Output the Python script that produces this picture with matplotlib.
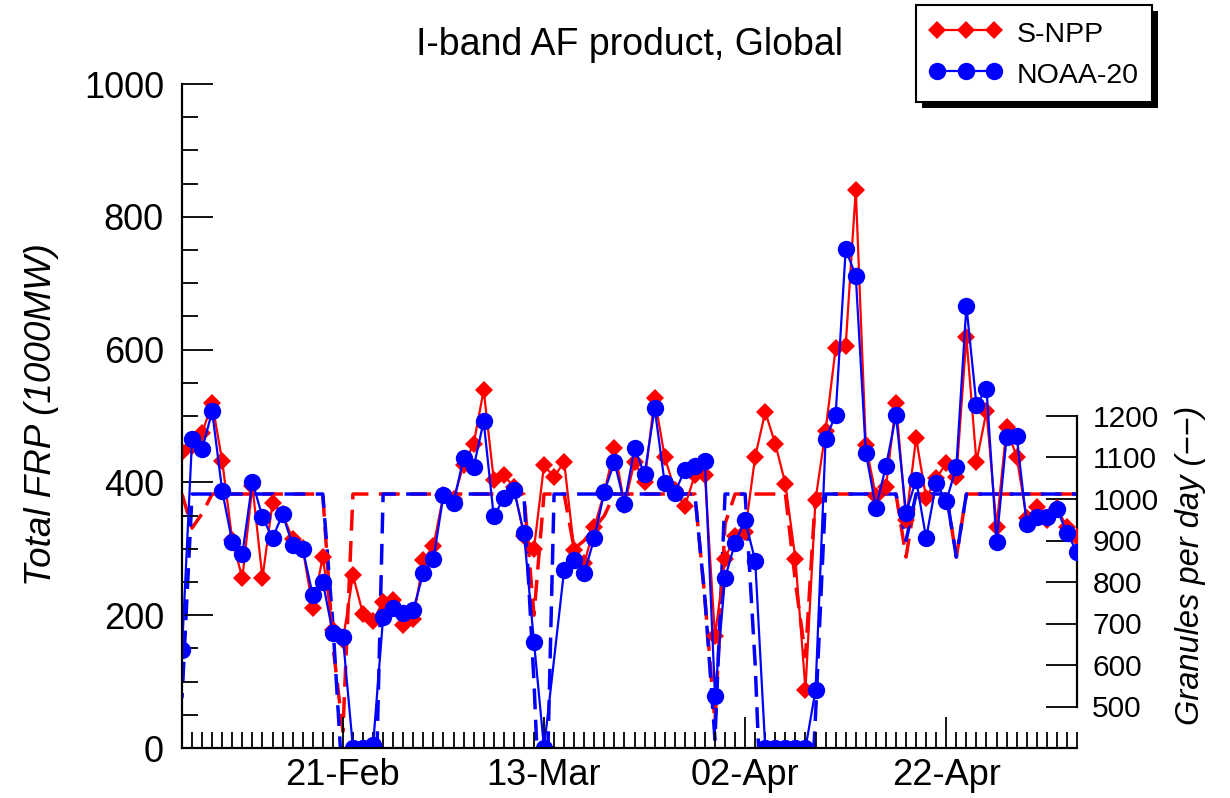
import datetime as dt
import numpy as np
import matplotlib
matplotlib.use("Agg")
import matplotlib.pyplot as plt
import matplotlib.dates as mdates
from matplotlib.patches import Rectangle
from matplotlib.ticker import MultipleLocator

# ---------------- data ----------------
start_date = dt.date(2021, 2, 5)
n_days = 90
dates = [start_date + dt.timedelta(days=i) for i in range(n_days)]

snpp_frp = [446, 455, 474, 520, 432, 313, 256, 395, 256, 369,
            352, 315, 301, 211, 288, 177, 162, 260, 202, 192,
            220, 223, 185, 194, 283, 304, 381, 375, 426, 458,
            539, 404, 411, 393, 320, 300, 426, 408, 431, 298,
            278, 333, 385, 452, 366, 431, 401, 527, 438, 389,
            364, 411, 411, 168, 285, 320, 326, 439, 506, 458,
            398, 285, 88, 374, 478, 602, 606, 841, 456, 380,
            393, 520, 343, 467, 376, 406, 429, 408, 619, 431,
            507, 333, 483, 438, 346, 363, 343, 361, 333, 318]

noaa20_frp = [148, 465, 450, 507, 387, 310, 292, 401, 348, 316,
              352, 306, 300, 230, 250, 173, 167, 0, 0, 4,
              197, 211, 203, 208, 264, 284, 381, 369, 437, 423,
              492, 349, 376, 389, 324, 160, 0, np.nan, 268, 283,
              263, 316, 386, 431, 368, 452, 412, 512, 399, 384,
              419, 424, 432, 79, 256, 309, 343, 282, 0, 0,
              0, 0, 0, 87, 465, 502, 751, 711, 445, 362,
              424, 501, 354, 404, 316, 399, 372, 423, 666, 517,
              541, 310, 468, 470, 337, 348, 348, 360, 324, 295]

snpp_granules = [1012, 930, 965, 1012, 1012, 1012, 1012, 1012, 1012, 1012,
                 1012, 1012, 1012, 1012, 1012, 650, 440, 1012, 1012, 1012,
                 1012, 1012, 1012, 1012, 1012, 1012, 1012, 1012, 1012, 1012,
                 1012, 1012, 1012, 1012, 1012, 720, 1012, 1012, 1012, 880,
                 900, 930, 960, 1012, 1012, 1012, 1012, 1012, 1012, 1012,
                 1012, 1012, 760, 460, 940, 1012, 1012, 1012, 1012, 1012,
                 1012, 800, 620, 1012, 1012, 1012, 1012, 1012, 1012, 1012,
                 1012, 1012, 860, 1012, 1012, 1012, 1012, 860, 1012, 1012,
                 1012, 1012, 1012, 1012, 1012, 1012, 1012, 1012, 1012, 1012]

noaa20_granules = [520, 1012, 1012, 1012, 1012, 1012, 1012, 1012, 1012, 1012,
                   1012, 1012, 1012, 1012, 1012, 700, 300, 0, 0, 0,
                   1012, 1012, 1012, 1012, 1012, 1012, 1012, 1012, 1012, 1012,
                   1012, 1012, 1012, 1012, 1012, 560, 0, 1012, 1012, 1012,
                   1012, 1012, 1012, 1012, 1012, 1012, 1012, 1012, 1012, 1012,
                   1012, 1012, 760, 420, 1012, 1012, 1012, 600, 0, 0,
                   0, 0, 0, 480, 1012, 1012, 1012, 1012, 1012, 1012,
                   1012, 1012, 900, 1012, 1012, 1012, 1012, 860, 1012, 1012,
                   1012, 1012, 1012, 1012, 1012, 1012, 1012, 1012, 1012, 1012]

series_names = ["S-NPP", "NOAA-20"]
label_dates = [dt.date(2021, 2, 21), dt.date(2021, 3, 13),
               dt.date(2021, 4, 2), dt.date(2021, 4, 22)]

# ---------------- style ----------------
plt.rcParams["font.family"] = ["Liberation Sans", "DejaVu Sans"]
RED = "#ff0000"
BLUE = "#0000ff"

W, H = 1230, 798
fig = plt.figure(figsize=(W / 100, H / 100), dpi=100)
L, R, B, T = 182, 1077, 748, 84
ax = fig.add_axes([L / W, 1 - B / H, (R - L) / W, (B - T) / H])
ax2 = ax.twinx()

# granules (secondary axis, drawn underneath)
ax2.plot(dates, snpp_granules, color=RED, lw=2.5, linestyle=(0, (6, 3)))
ax2.plot(dates, noaa20_granules, color=BLUE, lw=2.5, linestyle=(4.5, (6, 3)))
ax2.set_ylim(400, 2000)
ax2.set_yticks(range(500, 1201, 100))
ax2.spines["right"].set_bounds(500, 1200)
for s in ["top", "left", "bottom"]:
    ax2.spines[s].set_visible(False)
ax2.spines["right"].set_linewidth(1.6)
ax2.tick_params(axis="y", direction="in", length=22, width=1.3,
                labelsize=21.5, pad=11)

# FRP (main axis, on top)
ax.set_zorder(ax2.get_zorder() + 1)
ax.patch.set_visible(False)

d_arr = np.array(dates)
s_arr = np.array(snpp_frp, dtype=float)
n_arr = np.array(noaa20_frp, dtype=float)
ms = np.isfinite(s_arr)
mn = np.isfinite(n_arr)
l1, = ax.plot(d_arr[ms], s_arr[ms], color=RED, lw=1.6, marker="D",
              markersize=9.3, markeredgewidth=0, label=series_names[0])
l2, = ax.plot(d_arr[mn], n_arr[mn], color=BLUE, lw=1.6, marker="o",
              markersize=12.5, markeredgewidth=0, label=series_names[1])

ax.set_xlim(dates[0], dates[-1])
ax.set_ylim(0, 1000)
ax.yaxis.set_major_locator(MultipleLocator(200))
ax.yaxis.set_minor_locator(MultipleLocator(50))
ax.set_xticks([mdates.date2num(d) for d in label_dates])
ax.xaxis.set_major_formatter(mdates.DateFormatter("%d-%b"))
ax.xaxis.set_minor_locator(mdates.DayLocator())
ax.spines["top"].set_visible(False)
ax.spines["right"].set_visible(False)
ax.spines["left"].set_linewidth(1.6)
ax.spines["bottom"].set_linewidth(1.6)
ax.tick_params(axis="both", which="major", direction="in", length=22,
               width=1.3, labelsize=26)
ax.tick_params(axis="both", which="minor", direction="in", length=11.5,
               width=1.3)
ax.tick_params(axis="y", which="major", pad=13)
ax.tick_params(axis="x", which="major", pad=7)

# texts
fig.text(630 / W, 1 - 45 / H, "I-band AF product, Global", fontsize=27,
         ha="center", va="center")
fig.text(42 / W, 1 - 415 / H, "Total FRP (1000MW)", fontsize=26.5,
         style="italic", rotation=90, ha="center", va="center")
fig.text(1190 / W, 1 - 565 / H, "Granules per day (\u2212\u2212)",
         fontsize=23.5, style="italic", rotation=90, ha="center", va="center")

# legend
leg = ax.legend(handles=[l1, l2], loc="upper left",
                bbox_to_anchor=(916 / W, 1 - 5 / H),
                bbox_transform=fig.transFigure, borderaxespad=0,
                fancybox=False, framealpha=1, edgecolor="black",
                numpoints=3, handlelength=2.6, handletextpad=0.5,
                handleheight=1.15, borderpad=0.45, labelspacing=0.4,
                fontsize=20.5)
leg.get_frame().set_linewidth(1.5)
leg.set_zorder(10)

fig.canvas.draw()
bb = leg.get_window_extent().transformed(fig.transFigure.inverted())
off_x, off_y = 6 / W, 6 / H
shadow = Rectangle((bb.x0 + off_x, bb.y0 - off_y), bb.width, bb.height,
                   transform=fig.transFigure, facecolor="black",
                   edgecolor="none", zorder=0)
fig.patches.append(shadow)

fig.savefig("out.png", dpi=100)
